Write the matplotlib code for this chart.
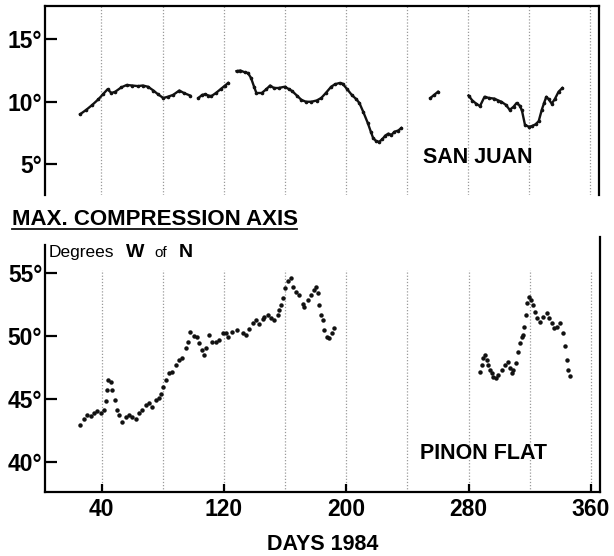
import numpy as np
import matplotlib
matplotlib.use("Agg")
import matplotlib.pyplot as plt
from matplotlib.lines import Line2D

plt.rcParams['font.family'] = ['Liberation Sans', 'DejaVu Sans']

nan = np.nan
# San Juan (upper panel) - days and degrees, NaN = data gap
sj_days = [26, 30, 34, 38, 41, 44, 46.5, 49, 53, 56.5, 60, 64, 67, 70.5, 74, 77, 80.5, 83.5, 87, 91, 94, 98,
           nan,
           103.5, 106, 108, 110, 112, 115, 118.5, 121, 123,
           nan,
           128.5, 131, 134, 136, 138, 140, 141.5, 145, 148, 150.5, 153, 156, 160, 163, 165, 168, 171, 174,
           177.5, 181, 184, 187, 190.5, 193, 196, 198, 201, 204, 207, 209, 211.5, 214.5, 216.5, 218, 220,
           222, 224, 226, 228, 230, 232, 234.5, 236.5,
           nan,
           255.5, 258, 260.5,
           nan,
           280.5, 283, 285.5, 288, 291, 294, 297.5, 300, 302, 305, 307.5, 310, 312, 314, 315.5, 317.5,
           320, 322, 324.5, 326.5, 328.5, 330, 331.5, 333, 335, 337, 339.5, 342]
sj_vals = [9.0, 9.35, 9.75, 10.2, 10.6, 11.0, 10.7, 10.8, 11.15, 11.34, 11.3, 11.25, 11.3, 11.2, 10.9, 10.6,
           10.3, 10.4, 10.55, 10.9, 10.7, 10.5,
           nan,
           10.3, 10.55, 10.6, 10.5, 10.45, 10.7, 11.05, 11.3, 11.5,
           nan,
           12.45, 12.5, 12.35, 12.3, 11.9, 11.2, 10.7, 10.7, 11.0, 11.3, 11.1, 11.1, 11.2, 11.0, 10.85,
           10.5, 10.15, 10.0, 10.0, 10.1, 10.3, 10.7, 11.2, 11.4, 11.5, 11.45, 11.0, 10.55, 10.2, 9.9,
           9.2, 8.3, 7.6, 7.1, 6.85, 6.8, 7.0, 7.3, 7.45, 7.35, 7.6, 7.7, 7.9,
           nan,
           10.3, 10.55, 10.8,
           nan,
           10.5, 10.1, 9.85, 9.65, 10.4, 10.3, 10.25, 10.1, 10.0, 9.75, 9.35, 9.6, 9.9, 9.7, 9.3, 8.15,
           8.0, 8.05, 8.2, 8.45, 9.35, 9.9, 10.4, 10.2, 9.85, 10.2, 10.8, 11.1]

# Pinon Flat (lower panel)
pf_days = [26.2, 28.4, 30.6, 32.8, 35, 37.1, 39.3, 41.5, 42.6, 43.7, 44.1, 45.9, 47, 48.5, 50.2, 51.3,
           53.5, 55.7, 57.9, 60.1, 62.3, 64.5, 66.6, 68.9, 71, 73.2, 75.4, 77.6, 78.7, 80.2, 82, 84.1,
           86.3, 88.5, 90.7, 92.9, 95.1, 96.6, 97.9, 100.5, 102.7, 103.8, 106, 107.1, 108.2, 110.4,
           112.5, 114.8, 116.9, 119.1, 121.3, 123, 125.6, 128.9, 132.2, 134.4, 136.6, 138.8, 141, 143,
           145.4, 146.4, 148.6, 150.8, 153, 155.1, 156.3, 157.4, 158.4, 160, 161.7, 164, 165, 167.2,
           169.4, 171.5, 172.7, 174.8, 177.1, 179.2, 180.3, 181.4, 182.5, 183.6, 184.7, 185.8, 187.3,
           189, 190.6, 192.3,
           287.4, 288.5, 289.6, 290.6, 291.8, 292.9, 294, 295.1, 296.1, 297.9, 299.4, 301.6, 303.8,
           306, 307.1, 308.2, 309.2, 311, 312.5, 313.6, 314.7, 315.8, 316.4, 317.4, 318.4, 319.5,
           320.8, 321.9, 323.5, 325, 326.7, 328.9, 331.1, 332.9, 334.4, 336.1, 338.1, 339.9, 342,
           343.2, 344.3, 345.3, 346.4]
pf_vals = [42.96, 43.4, 43.75, 43.7, 43.9, 44.1, 43.95, 44.15, 44.9, 45.75, 46.55, 46.4, 45.75, 44.95,
           44.15, 43.75, 43.2, 43.6, 43.75, 43.6, 43.45, 43.9, 44.15, 44.55, 44.7, 44.4, 44.95, 45.1,
           45.45, 46.0, 46.55, 47.05, 47.2, 47.7, 48.1, 48.25, 49.05, 49.55, 50.35, 50.0, 49.95, 49.45,
           48.9, 48.5, 49.05, 50.1, 49.55, 49.55, 49.7, 50.25, 50.25, 49.95, 50.35, 50.5, 50.25, 50.1,
           50.55, 51.05, 51.3, 51.0, 51.35, 51.55, 51.7, 51.45, 51.3, 51.7, 52.1, 52.5, 53.0, 53.8,
           54.35, 54.6, 53.95, 53.55, 53.3, 52.6, 52.35, 52.9, 53.3, 53.65, 53.95, 53.4, 52.5, 51.7,
           51.3, 50.5, 49.95, 49.85, 50.25, 50.65,
           47.19, 47.72, 48.25, 48.52, 48.12, 47.72, 47.33, 47.06, 46.8, 46.67, 46.93, 47.33, 47.72,
           47.98, 47.46, 47.06, 47.33, 47.86, 48.78, 49.44, 49.97, 50.1, 50.76, 51.69, 52.62, 53.14,
           52.88, 52.48, 51.95, 51.43, 51.16, 51.56, 51.82, 51.43, 51.03, 50.63, 50.76, 51.03, 50.24,
           49.23, 48.12, 47.33, 46.85]

grid_days = [40, 80, 120, 160, 200, 240, 280, 320, 360]
x_ticks = [40, 120, 200, 280, 360]
top_yticks = [5, 10, 15]
bot_yticks = [40, 45, 50, 55]

W, H = 614, 556
fig = plt.figure(figsize=(W / 100, H / 100), dpi=100)

def ax_rect(x0, y0, x1, y1):
    return [x0 / W, 1 - y1 / H, (x1 - x0) / W, (y1 - y0) / H]

ax1 = fig.add_axes(ax_rect(45, 6, 599, 195))
ax2 = fig.add_axes(ax_rect(45, 237, 600, 492))

XL = (3, 366)
grid_col = '#9a9a9a'

# --- upper panel
ax1.set_xlim(*XL)
ax1.set_ylim(2.54, 17.66)
for d in grid_days:
    ax1.axvline(d, color=grid_col, lw=0.9, ls=(0, (1, 1.5)), zorder=1)
ax1.plot(sj_days, sj_vals, color='#111111', lw=1.7, marker='o', ms=1.6, zorder=3)
ax1.spines['bottom'].set_visible(False)
for s in ['left', 'top', 'right']:
    ax1.spines[s].set_linewidth(1.6)
ax1.set_xticks([])
ax1.set_yticks(top_yticks)
ax1.set_yticklabels([f"{v}°" for v in top_yticks], fontsize=16.5, fontweight='bold')
ax1.tick_params(axis='y', direction='in', length=8.5, width=1.6, pad=2)
ax1.text(0.682, 0.17, "SAN JUAN", transform=ax1.transAxes, fontsize=15.5,
         fontweight='bold', ha='left', va='baseline')

# --- lower panel
ax2.set_xlim(*XL)
ax2.set_ylim(37.64, 57.88)
for d in grid_days:
    ax2.plot([d, d], [37.64, 55.3], color=grid_col, lw=0.9, ls=(0, (1, 1.5)), zorder=1)
ax2.plot(pf_days, pf_vals, ls='none', marker='o', ms=2.2, color='#111111', zorder=3)
ax2.spines['top'].set_visible(False)
for s in ['left', 'bottom', 'right']:
    ax2.spines[s].set_linewidth(1.6)
ax2.spines['left'].set_bounds(37.64, 57.25)
ax2.set_xticks(x_ticks)
ax2.set_xticklabels([str(v) for v in x_ticks], fontsize=16.5, fontweight='bold')
ax2.set_yticks(bot_yticks)
ax2.set_yticklabels([f"{v}°" for v in bot_yticks], fontsize=16.5, fontweight='bold')
ax2.tick_params(axis='y', direction='in', length=8.5, width=1.6, pad=2)
ax2.tick_params(axis='x', direction='in', length=6, width=1.6, pad=4)
ax2.set_xlabel("DAYS 1984", fontsize=15.5, fontweight='bold', labelpad=10)
ax2.text(0.676, 0.128, "PINON FLAT", transform=ax2.transAxes, fontsize=15.5,
         fontweight='bold', ha='left', va='baseline')

# --- headings
fig.text(12 / W, 1 - 225 / H, "MAX. COMPRESSION AXIS", fontsize=16, fontweight='bold',
         ha='left', va='baseline')
fig.add_artist(Line2D([12 / W, 297 / W], [1 - 228.5 / H, 1 - 228.5 / H], color='#111111', lw=1.3))

y_b = 1 - 257 / H
fig.text(49 / W, y_b, "Degrees", fontsize=12.5, ha='left', va='baseline')
fig.text(126 / W, y_b, "W", fontsize=14, fontweight='bold', ha='left', va='baseline')
fig.text(154 / W, y_b, "of", fontsize=11, ha='left', va='baseline')
fig.text(179 / W, y_b, "N", fontsize=14, fontweight='bold', ha='left', va='baseline')

fig.savefig("out.png", dpi=100, facecolor='white')
